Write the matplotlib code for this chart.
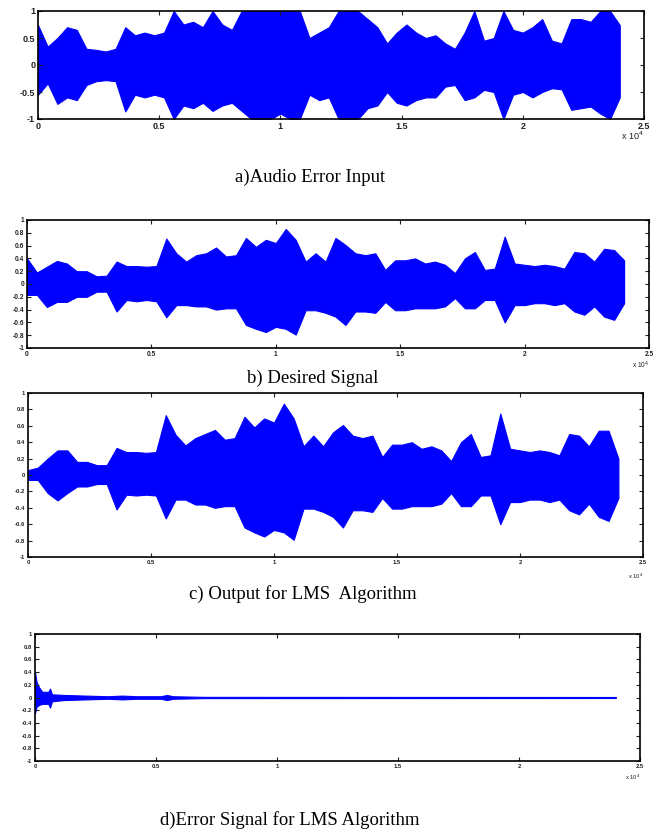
import matplotlib
matplotlib.use("Agg")
import matplotlib.pyplot as plt
import numpy as np

# sample index of the envelope readings (one every 400 samples)
n_idx = np.arange(0, 24001, 400)

# a) audio error input - upper / lower envelope
a_hi = [0.74, 0.34, 0.5, 0.7, 0.65, 0.3, 0.28, 0.25, 0.3, 0.7, 0.55, 0.6, 0.55, 0.6, 1.0,
        0.75, 0.8, 0.7, 1.0, 0.75, 0.65, 1.0, 1.0, 1.0, 1.0, 1.0, 1.0, 1.0, 0.5, 0.6,
        0.7, 1.0, 1.0, 1.0, 0.85, 0.7, 0.4, 0.6, 0.75, 0.6, 0.5, 0.55, 0.4, 0.3, 0.6,
        1.0, 0.45, 0.5, 1.0, 0.65, 0.6, 0.7, 0.85, 0.45, 0.4, 0.85, 0.85, 0.8, 1.0, 1.0,
        0.74]
a_lo = [-0.55, -0.34, -0.72, -0.6, -0.65, -0.37, -0.3, -0.28, -0.3, -0.86, -0.55, -0.6,
        -0.55, -0.6, -1.0, -0.75, -0.8, -0.7, -0.85, -0.75, -0.7, -0.85, -1.0, -1.0, -1.0,
        -0.9, -1.0, -1.0, -0.55, -0.65, -0.6, -1.0, -1.0, -1.0, -0.8, -0.75, -0.5, -0.7,
        -0.75, -0.65, -0.6, -0.6, -0.4, -0.37, -0.65, -0.6, -0.46, -0.5, -1.0, -0.55, -0.5,
        -0.6, -0.5, -0.43, -0.45, -0.83, -0.8, -0.77, -0.9, -1.0, -0.6]

# b) desired signal
b_hi = [0.4, 0.18, 0.27, 0.36, 0.32, 0.2, 0.2, 0.12, 0.13, 0.35, 0.28, 0.28, 0.27, 0.28,
        0.71, 0.48, 0.35, 0.45, 0.48, 0.57, 0.43, 0.45, 0.72, 0.58, 0.69, 0.64, 0.86, 0.69,
        0.35, 0.48, 0.35, 0.72, 0.61, 0.48, 0.45, 0.48, 0.22, 0.37, 0.37, 0.4, 0.32, 0.35,
        0.3, 0.17, 0.4, 0.5, 0.22, 0.24, 0.74, 0.32, 0.3, 0.28, 0.3, 0.28, 0.24, 0.5, 0.48,
        0.35, 0.55, 0.53, 0.37]
b_lo = [-0.17, -0.17, -0.36, -0.28, -0.28, -0.2, -0.2, -0.12, -0.12, -0.43, -0.25, -0.27,
        -0.25, -0.27, -0.52, -0.33, -0.33, -0.35, -0.35, -0.4, -0.38, -0.38, -0.64, -0.7,
        -0.75, -0.67, -0.7, -0.79, -0.41, -0.41, -0.45, -0.51, -0.64, -0.43, -0.43, -0.45,
        -0.28, -0.41, -0.41, -0.38, -0.38, -0.38, -0.35, -0.22, -0.38, -0.38, -0.25, -0.25,
        -0.6, -0.33, -0.33, -0.3, -0.3, -0.33, -0.3, -0.43, -0.48, -0.35, -0.51, -0.56, -0.3]

# c) LMS output
c_hi = [0.06, 0.09, 0.2, 0.3, 0.3, 0.16, 0.16, 0.12, 0.12, 0.33, 0.28, 0.28, 0.27, 0.28,
        0.73, 0.49, 0.36, 0.45, 0.5, 0.55, 0.43, 0.45, 0.71, 0.58, 0.69, 0.64, 0.87, 0.69,
        0.35, 0.48, 0.35, 0.52, 0.61, 0.48, 0.45, 0.48, 0.22, 0.37, 0.37, 0.4, 0.32, 0.35,
        0.3, 0.17, 0.4, 0.5, 0.22, 0.24, 0.75, 0.32, 0.3, 0.28, 0.3, 0.28, 0.24, 0.5, 0.48,
        0.35, 0.54, 0.54, 0.2]
c_lo = [-0.06, -0.06, -0.22, -0.31, -0.22, -0.14, -0.14, -0.11, -0.11, -0.42, -0.24, -0.25,
        -0.24, -0.25, -0.53, -0.3, -0.3, -0.36, -0.36, -0.4, -0.38, -0.38, -0.64, -0.7,
        -0.75, -0.67, -0.7, -0.79, -0.41, -0.41, -0.45, -0.51, -0.64, -0.43, -0.43, -0.45,
        -0.28, -0.41, -0.41, -0.38, -0.38, -0.38, -0.35, -0.22, -0.38, -0.38, -0.25, -0.25,
        -0.6, -0.33, -0.33, -0.3, -0.3, -0.33, -0.3, -0.43, -0.48, -0.35, -0.51, -0.56, -0.28]

# d) LMS error signal (decays quickly, so read at its own sample positions)
d_x = [0, 60, 150, 300, 550, 620, 700, 1200, 2100, 3000, 3600, 4200, 5200, 5450, 5700,
       7000, 24000]
d_hi = [0.4, 0.25, 0.17, 0.09, 0.09, 0.14, 0.05, 0.04, 0.03, 0.02, 0.03, 0.02, 0.02, 0.04,
        0.02, 0.01, 0.008]
d_lo = [-0.25, -0.15, -0.12, -0.1, -0.1, -0.16, -0.06, -0.04, -0.03, -0.02, -0.03, -0.02,
        -0.02, -0.04, -0.02, -0.01, -0.008]

x_ticks = [0, 5000, 10000, 15000, 20000, 25000]
x_labels = ["0", "0.5", "1", "1.5", "2", "2.5"]
y_ticks_a = [-1, -0.5, 0, 0.5, 1]
y_ticks = [-1, -0.8, -0.6, -0.4, -0.2, 0, 0.2, 0.4, 0.6, 0.8, 1]
captions = ["a)Audio Error Input", "b) Desired Signal",
            "c) Output for LMS  Algorithm", "d)Error Signal for LMS Algorithm"]

W, H = 660, 831
fig = plt.figure(figsize=(W / 100, H / 100), dpi=100)


def place(l, t, r, b):
    return fig.add_axes([l / W, 1 - b / H, (r - l) / W, (b - t) / H])


panels = [
    # (box in px), x, hi, lo, y ticks, tick font size
    ((38, 11, 644, 119), n_idx, a_hi, a_lo, y_ticks_a, 6.5),
    ((27, 220, 649, 348), n_idx, b_hi, b_lo, y_ticks, 4.8),
    ((28, 393, 643, 557), n_idx, c_hi, c_lo, y_ticks, 4.2),
    ((35, 634, 640, 761), d_x, d_hi, d_lo, y_ticks, 4.2),
]
cap_pos = [(310, 177), (313, 378), (303, 594), (290, 820)]

for (box, xs, hi, lo, yt, fs), cap, (cx, cy) in zip(panels, captions, cap_pos):
    ax = place(*box)
    ax.fill_between(xs, lo, hi, color="#0000ff", linewidth=0.8, edgecolor="#0000ff")
    ax.set_xlim(0, 25000)
    ax.set_ylim(-1, 1)
    ax.set_xticks(x_ticks)
    ax.set_xticklabels(x_labels)
    ax.set_yticks(yt)
    ax.set_yticklabels([f"{v:g}" for v in yt])
    ax.tick_params(direction="in", length=3, width=0.8, top=True, right=True,
                   labelsize=fs, colors="#222222", pad=2)
    for lab in ax.get_xticklabels() + ax.get_yticklabels():
        lab.set_family("Liberation Sans")
        lab.set_weight("bold")
    for sp in ax.spines.values():
        sp.set_linewidth(1.2)
        sp.set_color("black")
    ax.text(1.0, -0.1 if fs > 5 else -0.09, r"x 10$^4$", transform=ax.transAxes,
            ha="right", va="top", fontsize=fs, color="#222222", family="Liberation Sans")
    fig.text(cx / W, 1 - cy / H, cap, ha="center", va="center", fontsize=13.5,
             family="Liberation Serif")

fig.savefig("out.png", dpi=100)
